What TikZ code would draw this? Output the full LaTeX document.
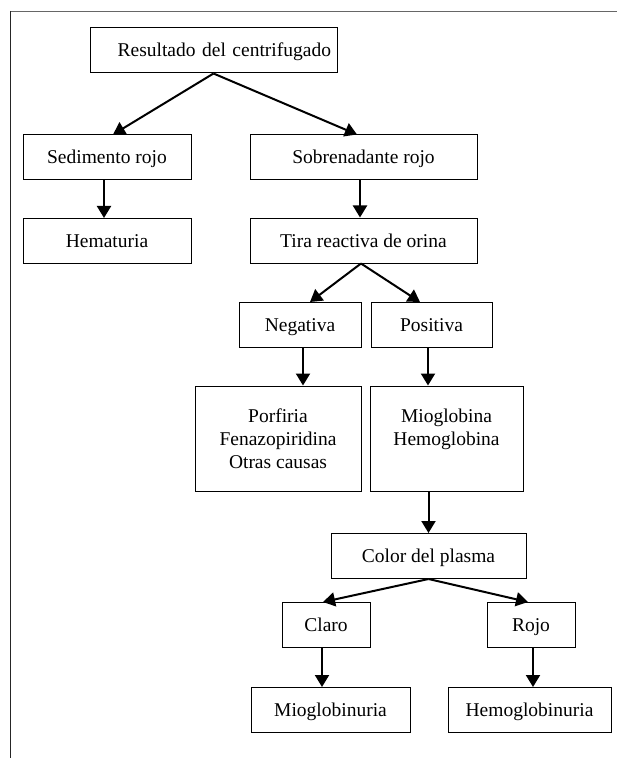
\documentclass[tikz,border=0pt]{standalone}
\usepackage{fontspec}
\setmainfont{Liberation Serif}
\usetikzlibrary{arrows.meta}

\begin{document}
\begin{tikzpicture}[x=1pt, y=-1pt,
    box/.style={draw, line width=1pt, inner sep=0pt, minimum height=45pt, align=center, font=\fontsize{19.5}{23}\selectfont},
    onebox/.style={box, text height=14pt, text depth=1pt},
    arr/.style={line width=2pt, -{Triangle[length=12pt, width=14pt]}}]
  \useasboundingbox (0,0) rectangle (617,759);
  \draw[black!60, line width=1.2pt] (10,11.5) -- (617,11.5);
  \draw[black!85, line width=1.2pt] (10.5,11) -- (10.5,758);

  \node[onebox, minimum width=247pt, text width=235pt, align=right] (res) at (213.5,50.5) {Resultado del centrifugado};
  \node[onebox, minimum width=168pt] (sed) at (107,157.5) {Sedimento rojo};
  \node[onebox, minimum width=227pt] (sob) at (363.5,157.5) {Sobrenadante rojo};
  \node[onebox, minimum width=168pt] (hem) at (107,241) {Hematuria};
  \node[onebox, minimum width=227pt] (tir) at (363.5,240.5) {Tira reactiva de orina};
  \node[onebox, minimum width=122pt] (neg) at (300,325) {Negativa};
  \node[onebox, minimum width=121pt] (pos) at (431.5,325) {Positiva};
  \node[box, minimum width=166pt, minimum height=105pt] (por) at (278,438.5) {Porfiria\\Fenazopiridina\\Otras causas};
  \node[box, minimum width=153pt, minimum height=105pt] (mio) at (446.5,438.5) {Mioglobina\\Hemoglobina\\\mbox{}};
  \node[onebox, minimum width=195pt] (col) at (428.5,556) {Color del plasma};
  \node[onebox, minimum width=88pt] (cla) at (326,625) {Claro};
  \node[onebox, minimum width=88pt] (roj) at (531,625) {Rojo};
  \node[onebox, minimum width=159pt] (mgu) at (330.5,710) {Mioglobinuria};
  \node[onebox, minimum width=163pt] (hgu) at (529.5,710) {Hemoglobinuria};

  \draw[arr] (res.south) -- ([xshift=6pt]sed.north);
  \draw[arr] (res.south) -- ([xshift=-6.5pt]sob.north);
  \draw[arr] ([xshift=-3pt]sed.south) -- ([xshift=-3pt]hem.north);
  \draw[arr] ([xshift=-3.5pt]sob.south) -- ([xshift=-3.5pt]tir.north);
  \draw[arr] ([xshift=-2.5pt]tir.south) -- ([xshift=10pt]neg.north);
  \draw[arr] ([xshift=-2.5pt]tir.south) -- ([xshift=-11.5pt]pos.north);
  \draw[arr] ([xshift=3pt]neg.south) -- ([xshift=3pt]neg.south |- por.north);
  \draw[arr] ([xshift=-3.5pt]pos.south) -- ([xshift=-3.5pt]pos.south |- mio.north);
  \draw[arr] (col.north |- mio.south) -- (col.north);
  \draw[arr] (col.south) -- ([xshift=-3pt]cla.north);
  \draw[arr] (col.south) -- ([xshift=-3pt]roj.north);
  \draw[arr] ([xshift=-4pt]cla.south) -- ([xshift=-4pt]cla.south |- mgu.north);
  \draw[arr] ([xshift=2pt]roj.south) -- ([xshift=2pt]roj.south |- hgu.north);
\end{tikzpicture}
\end{document}
